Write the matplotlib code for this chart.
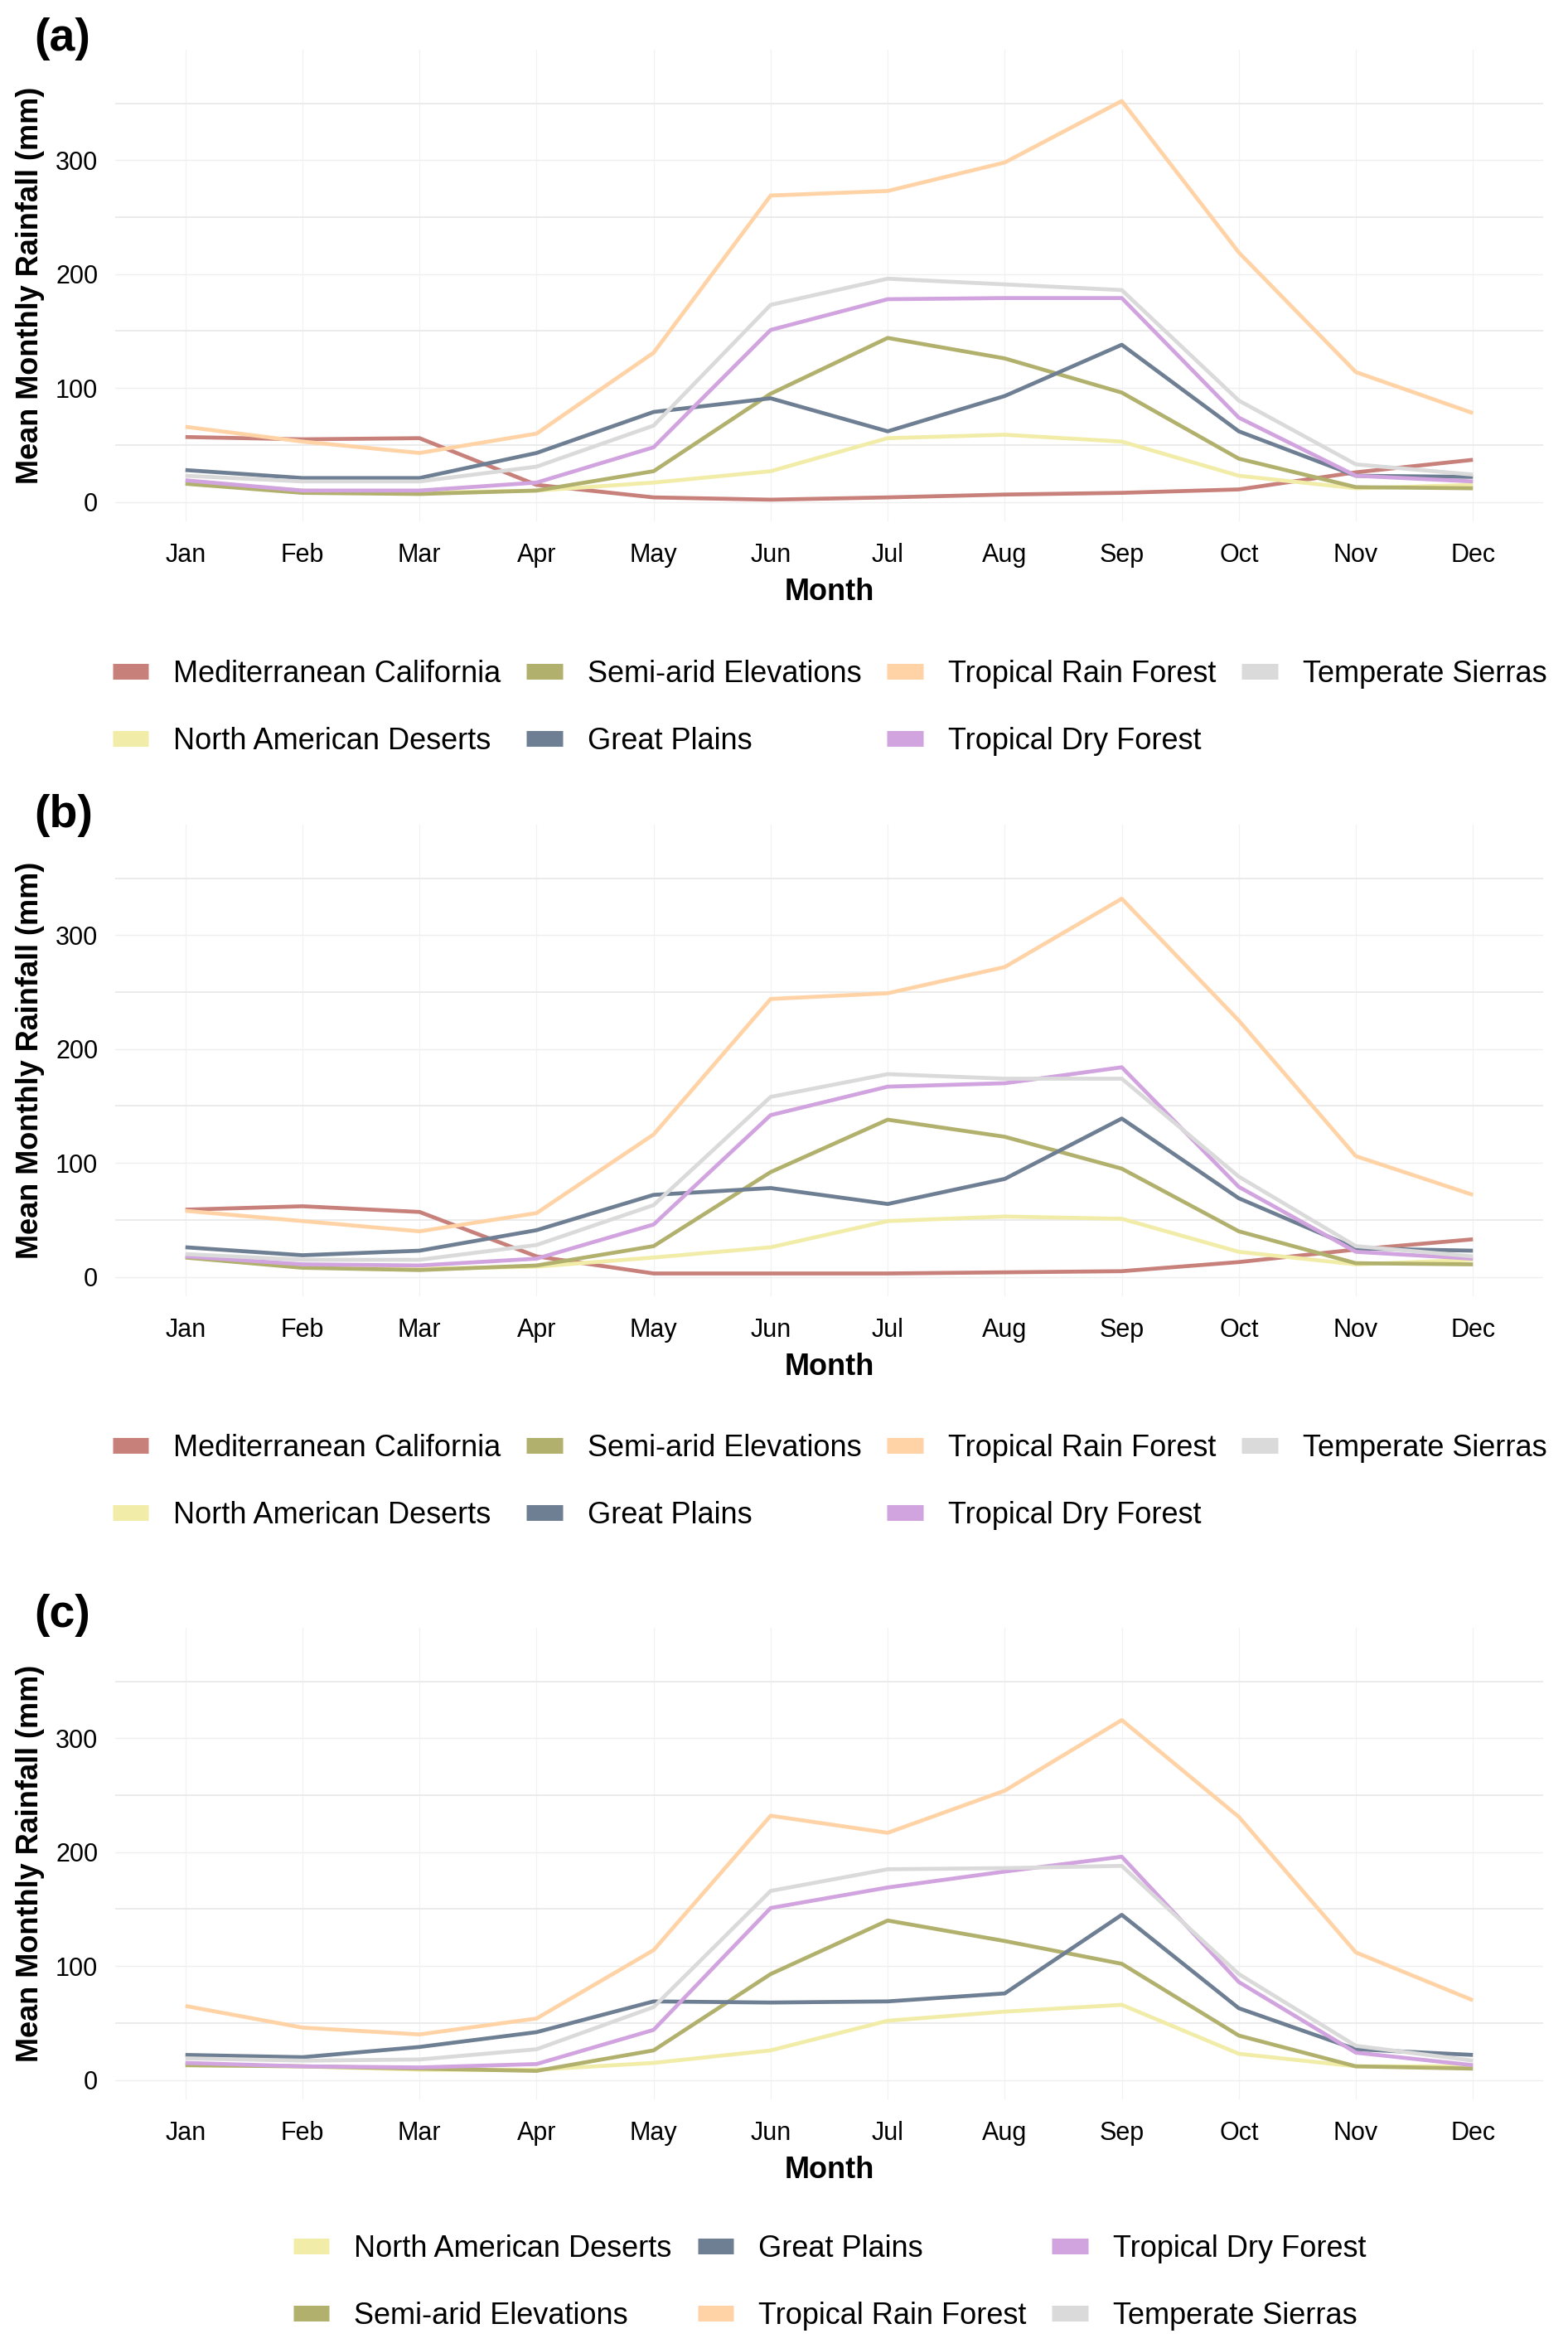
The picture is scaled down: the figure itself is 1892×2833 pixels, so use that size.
import matplotlib
matplotlib.use("Agg")
import matplotlib.pyplot as plt
from matplotlib.lines import Line2D

plt.rcParams['font.family'] = ['Liberation Sans', 'DejaVu Sans']

months = ['Jan', 'Feb', 'Mar', 'Apr', 'May', 'Jun', 'Jul', 'Aug', 'Sep', 'Oct', 'Nov', 'Dec']

regions = ['Mediterranean California', 'North American Deserts', 'Semi-arid Elevations',
           'Great Plains', 'Tropical Rain Forest', 'Tropical Dry Forest', 'Temperate Sierras']
region_colors = ['#C8807A', '#F1EDA8', '#B1B16D', '#6E7F93', '#FFD3A6', '#D1A3DF', '#DADADA']

# Panel (a)
a_med = [57, 55, 56, 15, 4, 2, 4, 6.5, 8, 11, 26, 37]
a_nad = [17, 10, 8, 10, 17, 27, 56, 59, 53, 23, 12, 15]
a_semi = [16, 8, 7, 10, 27, 95, 144, 126, 96, 38, 13, 12]
a_gp = [28, 21, 21, 43, 79, 91, 62, 93, 138, 62, 23, 22]
a_trf = [66, 53, 43, 60, 131, 269, 273, 298, 352, 219, 114, 78]
a_tdf = [19, 10, 10, 17, 48, 151, 178, 179, 179, 74, 23, 18]
a_ts = [23, 18, 18, 31, 67, 173, 196, 191, 186, 89, 33, 24]

# Panel (b)
b_med = [59, 62, 57, 18, 3, 3, 3, 4, 5, 13, 24, 33]
b_nad = [17, 9, 7, 9, 17, 26, 49, 53, 51, 22, 11, 15]
b_semi = [17, 8, 6, 10, 27, 92, 138, 123, 95, 40, 12, 11]
b_gp = [26, 19, 23, 41, 72, 78, 64, 86, 139, 69, 25, 23]
b_trf = [58, 49, 40, 56, 125, 244, 249, 272, 332, 225, 106, 72]
b_tdf = [18, 11, 10, 16, 46, 142, 167, 170, 184, 79, 22, 16]
b_ts = [20, 15, 15, 28, 63, 158, 178, 174, 174, 88, 27, 18]

# Panel (c) (no Mediterranean California)
c_nad = [13, 12, 9, 9, 15, 26, 52, 60, 66, 23, 12, 12]
c_semi = [13, 12, 10, 8, 26, 93, 140, 122, 102, 39, 12, 10]
c_gp = [22, 20, 29, 42, 69, 68, 69, 76, 145, 63, 27, 22]
c_trf = [65, 46, 40, 54, 114, 232, 217, 254, 316, 231, 112, 70]
c_tdf = [15, 12, 11, 14, 44, 151, 169, 183, 196, 86, 24, 13]
c_ts = [19, 17, 18, 27, 64, 166, 185, 186, 188, 93, 30, 17]

panels = [
    ('(a)', [a_med, a_nad, a_semi, a_gp, a_trf, a_tdf, a_ts]),
    ('(b)', [b_med, b_nad, b_semi, b_gp, b_trf, b_tdf, b_ts]),
    ('(c)', [None, c_nad, c_semi, c_gp, c_trf, c_tdf, c_ts]),
]

W, H = 1892, 2833
fig = plt.figure(figsize=(W / 100, H / 100), dpi=100)
fig.patch.set_facecolor('white')

left_px, right_px = 139, 1862
panel_tops = [60, 995, 1964]
panel_h = 569
legend_centers = [854, 1788, 2754]
label_baselines = [61, 998, 1963]

x = list(range(1, 13))

for (tag, series), top, lc, lb in zip(panels, panel_tops, legend_centers, label_baselines):
    ax = fig.add_axes([left_px / W, 1 - (top + panel_h) / H, (right_px - left_px) / W, panel_h / H])
    handles = []
    labels = []
    for name, col, vals in zip(regions, region_colors, series):
        if vals is None:
            continue
        ax.plot(x, vals, color=col, lw=3.4, solid_capstyle='butt', solid_joinstyle='round')
        handles.append(Line2D([0], [0], color=col, lw=13.7, solid_capstyle='butt'))
        labels.append(name)
    ax.set_xlim(0.4, 12.6)
    ax.set_ylim(-17, 397)
    ax.set_xticks(x)
    ax.set_xticklabels(months)
    ax.set_yticks([0, 100, 200, 300])
    ax.set_yticks([50, 150, 250, 350], minor=True)
    ax.tick_params(axis='both', which='both', length=0, labelsize=22, colors='black')
    ax.tick_params(axis='x', pad=19)
    ax.tick_params(axis='y', pad=15)
    ax.yaxis.grid(True, which='major', color='#EFEFEF', lw=1.0)
    ax.yaxis.grid(True, which='minor', color='#E8E8E8', lw=1.2)
    ax.xaxis.grid(True, which='major', color='#F2F2F2', lw=0.9)
    ax.set_axisbelow(True)
    for s in ax.spines.values():
        s.set_visible(False)
    ax.set_xlabel('Month', fontsize=26, fontweight='bold')
    ax.xaxis.label.set_va('baseline')
    ax.xaxis.set_label_coords(0.5, -0.167)
    ax.set_ylabel('Mean Monthly Rainfall (mm)', fontsize=26, fontweight='bold')
    ax.yaxis.label.set_va('center')
    ax.yaxis.set_label_coords(-0.0592, 0.5)

    ncol = 4 if len(handles) == 7 else 3
    fig.legend(handles, labels, loc='center', bbox_to_anchor=(1001 / W, 1 - lc / H),
               ncol=ncol, frameon=False, fontsize=26, handlelength=1.2,
               handletextpad=0.83, columnspacing=0.86, labelspacing=1.27, borderpad=0)

    fig.text(41 / W, 1 - lb / H, tag, fontsize=40, fontweight='bold', ha='left', va='baseline')

fig.savefig('out.png', dpi=100, facecolor='white')
